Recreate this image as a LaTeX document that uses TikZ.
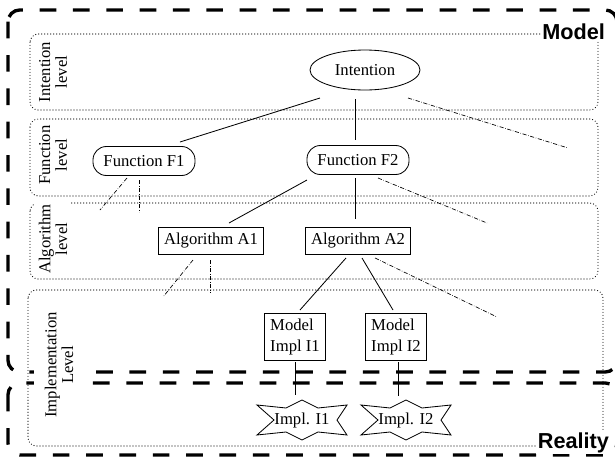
\documentclass[tikz,border=0pt]{standalone}
\usepackage{fontspec}
\setmainfont{Liberation Serif}
\newfontfamily\regionfont{Liberation Sans}
\usetikzlibrary{shapes.geometric}

% star outline round an implementation node
\newcommand\burstat[1]{%
  \draw[shift={(#1.center)}] (-45,-15) -- (-16,-12) -- (0,-20) -- (16,-12) -- (45,-15) -- (35,0)
    -- (45,15) -- (16,12) -- (0,20) -- (-16,12) -- (-45,15) -- (-28,0) -- cycle;}

\begin{document}
\begin{tikzpicture}[x=0.6pt, y=-0.6pt, line width=0.5pt, font=\fontsize{10}{10}\selectfont,
    level/.style={draw, line width=0.7pt, line cap=round, dash pattern=on 0pt off 1.8pt, rounded corners=5pt},
    region/.style={draw, line width=2pt, dash pattern=on 10pt off 10pt, rounded corners=7pt},
    regionlabel/.style={fill=white, inner sep=1pt, anchor=base east,
      font=\regionfont\bfseries\fontsize{13}{13}\selectfont},
    levellabel/.style={rotate=90, align=center, fill=white, inner sep=2pt},
    intent/.style={draw, ellipse, minimum width=66pt, minimum height=24pt},
    func/.style={draw, rounded corners=8pt, minimum width=61.2pt, minimum height=17.4pt},
    algo/.style={draw, minimum width=60.6pt, minimum height=14.4pt},
    impl/.style={draw, align=left, minimum width=32.4pt, minimum height=27.6pt,
      font=\fontsize{10}{12.5}\selectfont},
    real/.style={inner sep=1pt},
    link/.style={draw},
    hint/.style={draw, line width=0.4pt, dash pattern=on 2.5pt off 1pt on 0.3pt off 1pt}]
  \useasboundingbox (0,0) rectangle (615,461);

  % levels
  \draw[level] (30,34) rectangle (598,110);
  \draw[level] (30,119) rectangle (598,196);
  \draw[level] (30,203) rectangle (598,279);
  \draw[level] (28,290) rectangle (603,446);

  % model and reality
  \draw[region] (8,10) rectangle (617,372);
  \draw[region] (8,383) rectangle (617,455);
  \node[regionlabel] (model) at (607,39) {Model};
  \node[regionlabel] (reality) at (611,448) {Reality};

  \node[levellabel] (lint) at (53,72) {Intention\\level};
  \node[levellabel] (lfun) at (53,155) {Function\\level};
  \node[levellabel] (lalg) at (53,239) {Algorithm\\level};
  \node[levellabel, inner ysep=6.5pt] (limp) at (59,365) {Implementation\\Level};

  \node[intent] (int) at (365,70) {Intention};
  \node[func] (f1) at (144,161) {Function F1};
  \node[func] (f2) at (358,160) {Function F2};
  \node[algo] (a1) at (211,241) {Algorithm A1};
  \node[algo] (a2) at (358,241) {Algorithm A2};
  \node[impl] (mi1) at (295,337) {Model\\Impl I1};
  \node[impl] (mi2) at (396,337) {Model\\Impl I2};
  \node[real] (im1) at (302,420) {Impl. I1};
  \node[real] (im2) at (406,420) {Impl. I2};
  \burstat{im1}
  \burstat{im2}

  \draw[link] ([shift={(-45,28)}]int.center) -- ([shift={(36,-19)}]f1.center);
  \draw[link] ([shift={(-10,29)}]int.center) -- ([shift={(-3,-20)}]f2.center);
  \draw[link] ([shift={(-51,20)}]f2.center) -- ([shift={(18,-18)}]a1.center);
  \draw[link] ([shift={(-3,18)}]f2.center) -- ([shift={(-3,-22)}]a2.center);
  \draw[link] ([shift={(-12,17)}]a2.center) -- ([shift={(5,-27)}]mi1.center);
  \draw[link] ([shift={(4,17)}]a2.center) -- ([shift={(-3,-27)}]mi2.center);
  \draw[link] ([shift={(0,25)}]mi1.center) -- ([shift={(-7,-25)}]im1.center);
  \draw[link] ([shift={(2,25)}]mi2.center) -- ([shift={(-8,-24)}]im2.center);

  % loose ends
  \coordinate (intx) at (568,148);
  \coordinate (f1x) at (100,210);
  \coordinate (f1y) at (139,212);
  \coordinate (f2x) at (487,223);
  \coordinate (a1x) at (163,297);
  \coordinate (a1y) at (210,293);
  \coordinate (a2x) at (497,317);
  \draw[hint] ([shift={(43,28)}]int.center) -- (intx);
  \draw[hint] ([shift={(-17,17)}]f1.center) -- (f1x);
  \draw[hint] ([shift={(-5,19)}]f1.center) -- (f1y);
  \draw[hint] ([shift={(20,18)}]f2.center) -- (f2x);
  \draw[hint] ([shift={(-18,19)}]a1.center) -- (a1x);
  \draw[hint] ([shift={(-1,19)}]a1.center) -- (a1y);
  \draw[hint] ([shift={(17,17)}]a2.center) -- (a2x);
\end{tikzpicture}
\end{document}
